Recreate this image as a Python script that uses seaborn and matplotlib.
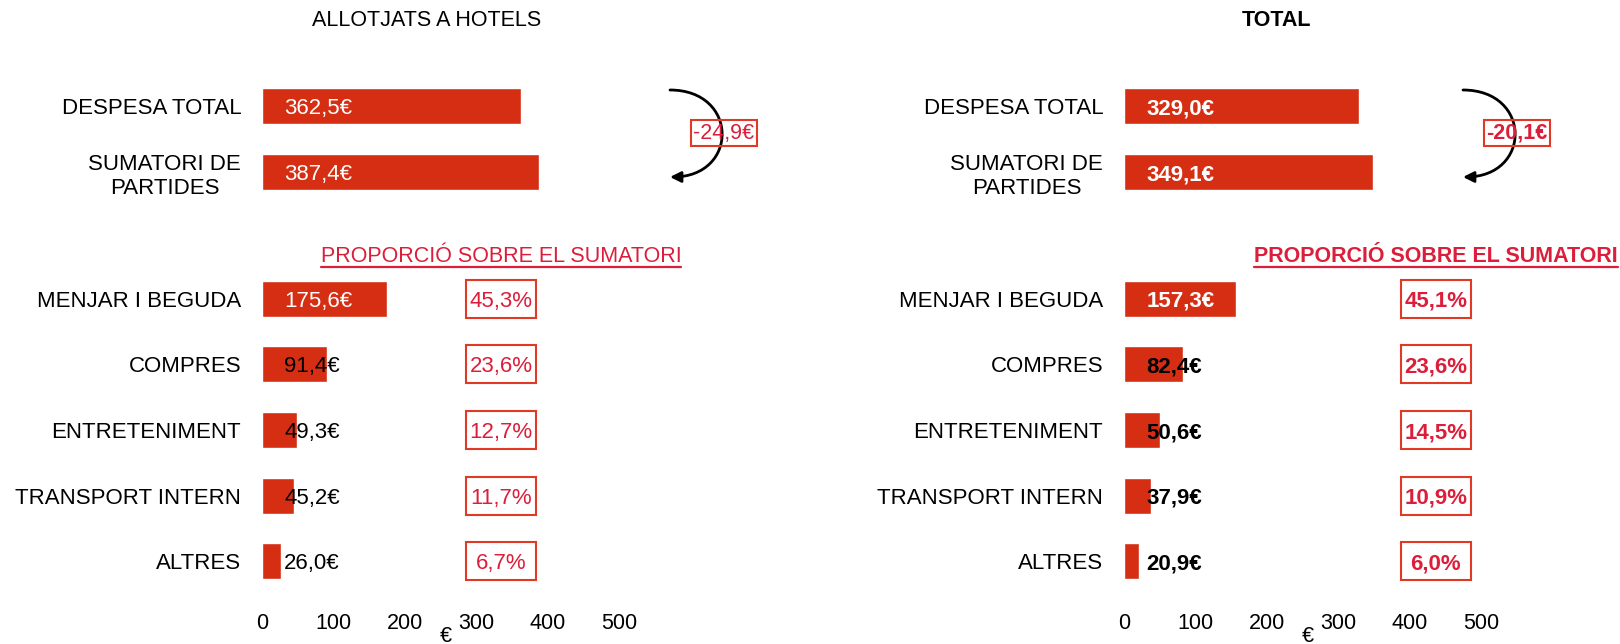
import matplotlib
matplotlib.use("Agg")
import matplotlib.pyplot as plt
import seaborn as sns
from matplotlib.patches import Rectangle, FancyArrowPatch
from matplotlib.lines import Line2D
from matplotlib.path import Path
from matplotlib.transforms import blended_transform_factory

# ---- data ----
top_cats = ["DESPESA TOTAL", "SUMATORI DE\nPARTIDES"]
bottom_cats = ["MENJAR I BEGUDA", "COMPRES", "ENTRETENIMENT", "TRANSPORT INTERN", "ALTRES"]

hotels_top = [362.5, 387.4]
hotels_parts = [175.6, 91.4, 49.3, 45.2, 26.0]
hotels_pct = [45.3, 23.6, 12.7, 11.7, 6.7]

total_top = [329.0, 349.1]
total_parts = [157.3, 82.4, 50.6, 37.9, 20.9]
total_pct = [45.1, 23.6, 14.5, 10.9, 6.0]

x_ticks = [0, 100, 200, 300, 400, 500]

BAR = "#D52E13"
RED_TXT = "#DC1E3A"
BOX_EDGE = "#E03A26"
FS = 15.5

sns.set_style("white")
plt.rcParams["font.family"] = ["Liberation Sans", "DejaVu Sans"]
plt.rcParams["text.color"] = "black"
plt.rcParams["xtick.color"] = "black"
plt.rcParams["ytick.color"] = "black"
plt.rcParams["axes.labelcolor"] = "black"

fig = plt.figure(figsize=(16.2, 6.44), dpi=100)


def fmt(v, suffix):
    return f"{v:.1f}".replace(".", ",") + suffix


def px(x, y):
    # pixel position (from top-left) -> figure fraction
    return x / 1620, 1 - y / 644


def panel(left_px, title, title_x, top_vals, part_vals, pcts, bold, box_xc, arrow_x):
    weight = "bold" if bold else "normal"
    left = left_px / 1620
    width = 357 / 1620

    ax_top = fig.add_axes([left, 1 - 205 / 644, width, 132 / 644])
    ax_bot = fig.add_axes([left, 1 - 594 / 644, width, 328 / 644])

    sns.barplot(x=top_vals, y=top_cats, color=BAR, saturation=1, width=0.55, ax=ax_top)
    sns.barplot(x=part_vals, y=bottom_cats, color=BAR, saturation=1, width=0.55, ax=ax_bot)

    for ax in (ax_top, ax_bot):
        ax.set_xlim(0, 500)
        sns.despine(ax=ax, left=True, bottom=True)
        ax.set_ylabel("")
        ax.tick_params(axis="y", length=0, pad=15, labelsize=16)
        for lab in ax.get_yticklabels():
            lab.set_multialignment("center")
        vals = top_vals if ax is ax_top else part_vals
        for v, p in zip(vals, ax.patches):
            yc = p.get_y() + p.get_height() / 2
            col = "white" if v > 120 else "black"
            ax.annotate(fmt(v, "€"), xy=(0, yc), xytext=(16, 0), textcoords="offset points",
                        ha="left", va="center_baseline", fontsize=16, color=col,
                        fontweight=weight)

    ax_top.set_xticks([])
    ax_top.set_xlabel("")
    ax_bot.set_xticks(x_ticks)
    ax_bot.tick_params(axis="x", length=0, pad=14, labelsize=FS)
    ax_bot.set_xlabel("€", fontsize=FS)
    ax_bot.xaxis.label.set_va("center")
    ax_bot.xaxis.set_label_coords(0.515, -0.13)

    # percentage boxes
    tr = blended_transform_factory(ax_bot.transAxes, ax_bot.transData)
    for i, pc in enumerate(pcts):
        ax_bot.add_patch(Rectangle((box_xc - 0.098, i - 0.29), 0.196, 0.58, transform=tr,
                                   fill=False, edgecolor=BOX_EDGE, lw=1.5, clip_on=False))
        ax_bot.text(box_xc, i, fmt(pc, "%"), transform=tr, ha="center",
                    va="center_baseline", fontsize=16, color=RED_TXT, fontweight=weight)

    # header over the percentages
    hx = left + box_xc * width
    hdr = fig.text(hx, 1 - 256 / 644, "PROPORCIÓ SOBRE EL SUMATORI", ha="center", va="center",
                   fontsize=FS, color=RED_TXT, fontweight=weight)

    # title
    fig.text(title_x / 1620, 1 - 21 / 644, title, ha="center", va="center",
             fontsize=FS, fontweight=weight, color="black")

    # difference arrow (half-circle like curve)
    k = 69
    verts = [px(arrow_x, 90), px(arrow_x + k, 90), px(arrow_x + k, 177), px(arrow_x, 177)]
    path = Path(verts, [Path.MOVETO, Path.CURVE4, Path.CURVE4, Path.CURVE4])
    arr = FancyArrowPatch(path=path, transform=fig.transFigure, arrowstyle="-|>",
                          mutation_scale=16, lw=2, color="black")
    fig.add_artist(arr)
    diff = top_vals[0] - top_vals[1]
    fig.text(*px(arrow_x + 54, 133), fmt(diff, "€"), ha="center", va="center",
             fontsize=FS, color=RED_TXT, fontweight=weight,
             bbox=dict(boxstyle="square,pad=0.12", fc="none", ec=BOX_EDGE, lw=1.5))
    return hdr


hdr1 = panel(262, "ALLOTJATS A HOTELS", 427, hotels_top, hotels_parts, hotels_pct, False, 0.6695, 670)
hdr2 = panel(1124, "TOTAL", 1277, total_top, total_parts, total_pct, True, 0.8736, 1463)

# underline the headers
fig.canvas.draw()
for h in (hdr1, hdr2):
    bb = h.get_window_extent().transformed(fig.transFigure.inverted())
    y = 1 - 267 / 644
    fig.add_artist(Line2D([bb.x0, bb.x1], [y, y], transform=fig.transFigure,
                          color=RED_TXT, lw=1.6))

plt.savefig("out.png", dpi=100)
